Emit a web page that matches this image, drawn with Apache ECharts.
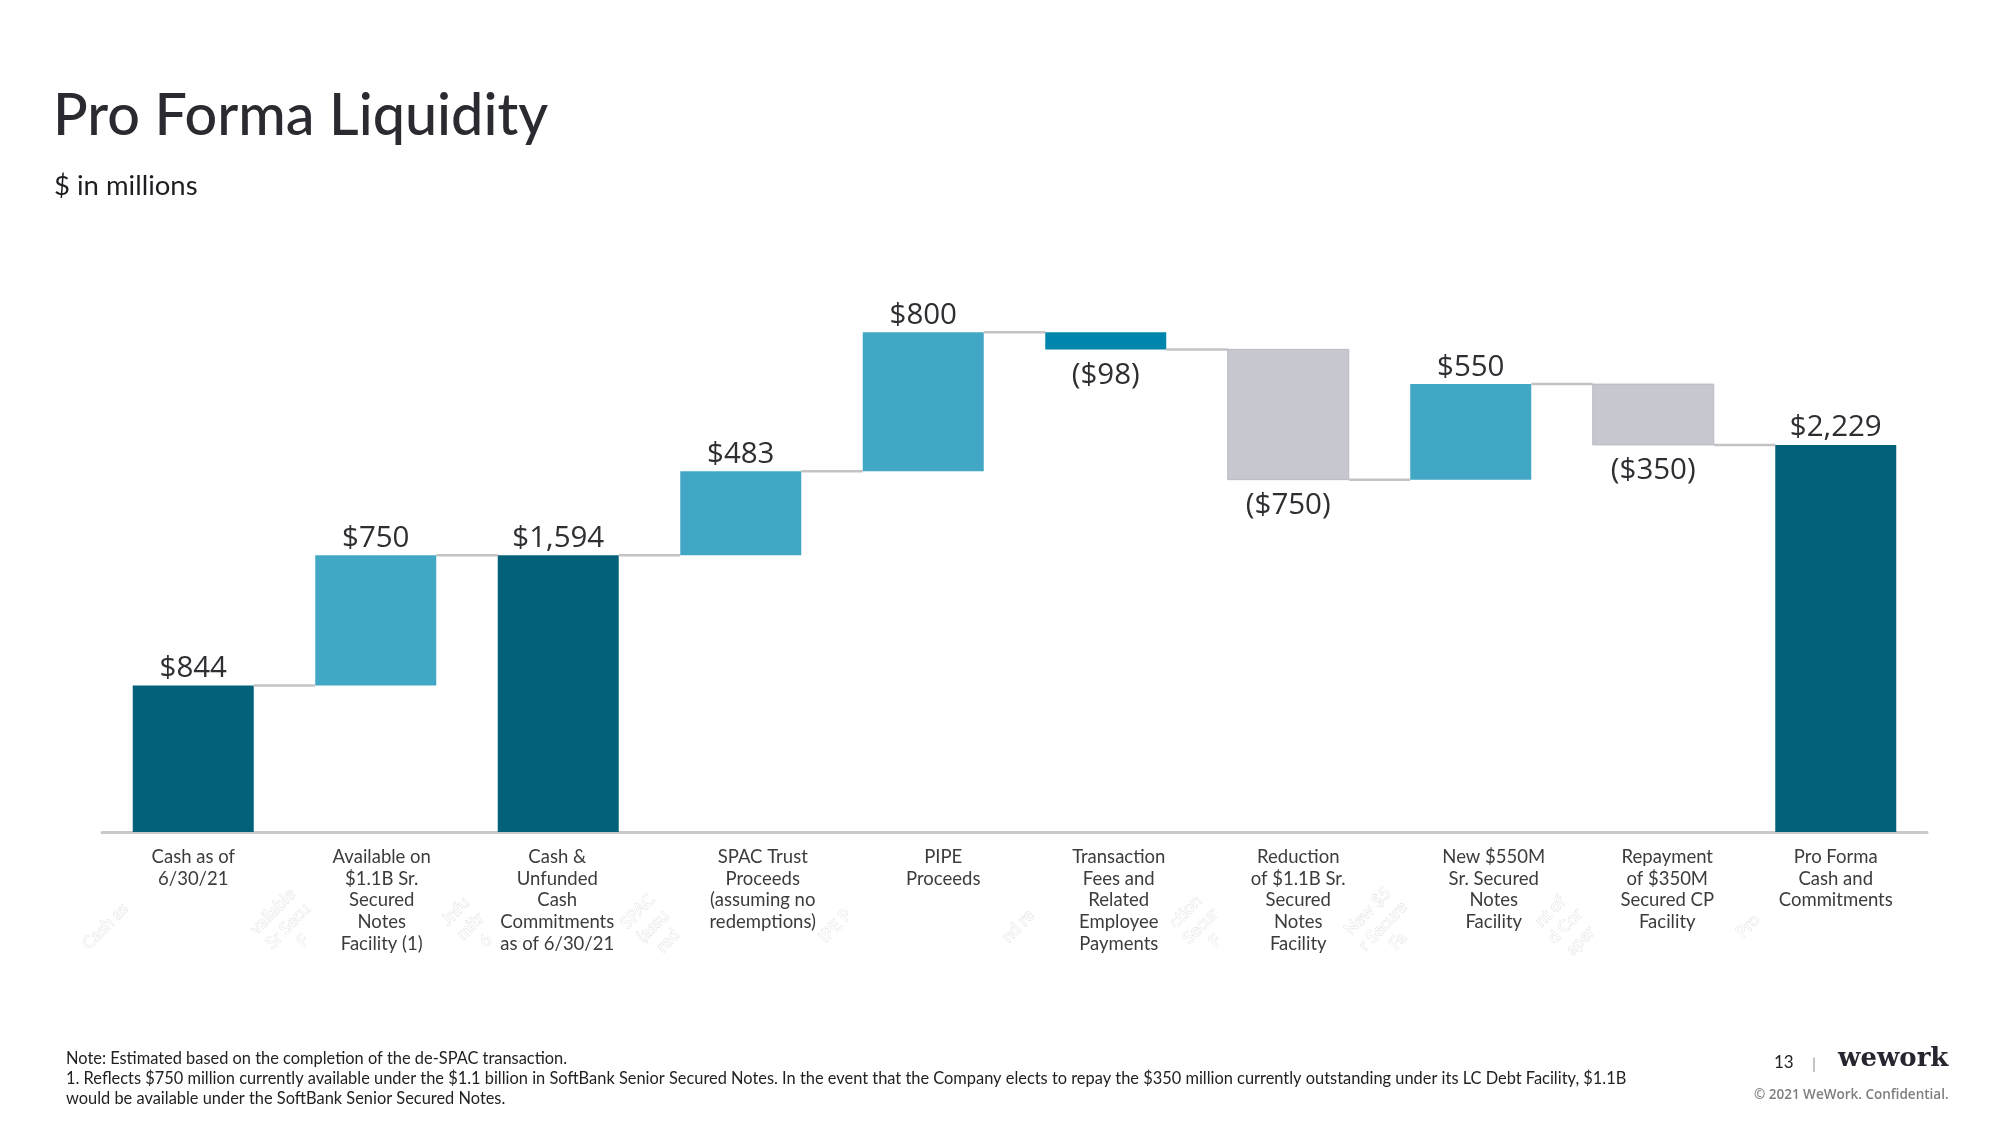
<!DOCTYPE html>
<html>
<head>
<meta charset="utf-8">
<script src="https://cdn.jsdelivr.net/npm/echarts@6/dist/echarts.min.js"></script>
<style>
html,body{margin:0;padding:0;background:#fff;}
#c{width:2000px;height:1125px;}
</style>
</head>
<body>
<div id="c"></div>
<script>
// ---------- data ----------
const categories = [
  'Cash as of\n6/30/21',
  'Available on\n$1.1B Sr.\nSecured\nNotes\nFacility (1)',
  'Cash &\nUnfunded\nCash\nCommitments\nas of 6/30/21',
  'SPAC Trust\nProceeds\n(assuming no\nredemptions)',
  'PIPE\nProceeds',
  'Transaction\nFees and\nRelated\nEmployee\nPayments',
  'Reduction\nof $1.1B Sr.\nSecured\nNotes\nFacility',
  'New $550M\nSr. Secured\nNotes\nFacility',
  'Repayment\nof $350M\nSecured CP\nFacility',
  'Pro Forma\nCash and\nCommitments'
];
const values = [844, 750, 1594, 483, 800, -98, -750, 550, -350, 2229];
const kinds  = ['total', 'inc', 'total', 'inc', 'inc', 'fee', 'dec', 'inc', 'dec', 'total'];
const ghostLabels = [
  'Cash as', 'vailable\nSr Secu\nF', 'Jnfu\nmitr\n6', 'SPAC\n(assu\nred', 'IPE P',
  'nd re', 'ction\nSecur\nF', 'New $5\nr Secure\nFa', 'nt of\nd Cor\naper', 'Pro'
];
const titleText = 'Pro Forma Liquidity';
const subtitleText = '$ in millions';
const notes = [
  'Note: Estimated based on the completion of the de-SPAC transaction.',
  '1. Reflects $750 million currently available under the $1.1 billion in SoftBank Senior Secured Notes. In the event that the Company elects to repay the $350 million currently outstanding under its LC Debt Facility, $1.1B',
  'would be available under the SoftBank Senior Secured Notes.'
];

// ---------- layout (not data) ----------
const labelShift = [0, 6, -1, 22, 20, 13, 10, 23, 14, 0]; // horizontal nudge of category text blocks (px)

// ---------- build waterfall rows ----------
const rows = [];
let running = 0;
values.forEach((v, i) => {
  let low, high, end;
  if (kinds[i] === 'total') { low = 0; high = v; end = v; }
  else if (v >= 0) { low = running; high = running + v; end = high; }
  else { low = running + v; high = running; end = low; }
  running = end;
  rows.push([i, low, high, end, v, i < values.length - 1 ? 1 : 0]);
});

const colorMap = { total: '#04617A', inc: '#41A7C4', fee: '#0085AD', dec: '#C6C7CF' };
function fmt(v) {
  const s = '$' + Math.abs(v).toLocaleString('en-US');
  return v < 0 ? '(' + s + ')' : s;
}

const chart = echarts.init(document.getElementById('c'), null, { renderer: 'canvas' });
const FONT = '"Open Sans", sans-serif';
const CATFONT = 'Lato, "Open Sans", sans-serif';

const option = {
  animation: false,
  backgroundColor: '#ffffff',
  grid: { left: 102, right: 73, top: 311, bottom: 293, containLabel: false },
  xAxis: {
    type: 'category',
    data: categories,
    axisTick: { show: false },
    axisLine: { lineStyle: { color: '#C9C9C9', width: 3 } },
    axisLabel: { show: false }
  },
  yAxis: { type: 'value', min: 0, max: 3000, show: false, splitLine: { show: false } },
  series: [{
    type: 'custom',
    data: rows,
    encode: { x: 0, y: [1, 2] },
    z: 3,
    renderItem: function (params, api) {
      const idx = api.value(0);
      const low = api.value(1), high = api.value(2), end = api.value(3), v = api.value(4);
      const band = api.size([1, 0])[0];
      const bw = band * 0.663;
      const pLow = api.coord([idx, low]);
      const pHigh = api.coord([idx, high]);
      const x0 = pLow[0] - bw / 2;
      const kind = kinds[idx];
      const children = [{
        type: 'rect',
        shape: { x: x0, y: pHigh[1], width: bw, height: pLow[1] - pHigh[1] },
        style: { fill: colorMap[kind], stroke: kind === 'dec' ? '#B9BAC2' : null, lineWidth: 1 }
      }];
      if (api.value(5)) {
        const pEnd = api.coord([idx, end]);
        const pNext = api.coord([idx + 1, end]);
        children.push({
          type: 'line',
          shape: { x1: x0 + bw, y1: pEnd[1], x2: pNext[0] - bw / 2, y2: pEnd[1] },
          style: { stroke: '#C3C3C3', lineWidth: 2.5 }
        });
      }
      const neg = v < 0;
      children.push({
        type: 'text',
        x: pLow[0],
        y: neg ? pLow[1] + 11 : pHigh[1] - 2,
        style: {
          text: fmt(v), fill: '#2e2e33', font: '29.5px ' + FONT,
          align: 'center', verticalAlign: neg ? 'top' : 'bottom'
        }
      });
      return { type: 'group', children: children };
    }
  }]
};
chart.setOption(option);

const staticGraphics = [
  { type: 'text', left: 53, top: 87, style: { text: titleText, fill: '#2a2a30', font: '500 57.5px Lato, sans-serif' } },
  { type: 'text', left: 54, top: 172, style: { text: subtitleText, fill: '#1e1e22', font: '27.5px Lato, sans-serif' } },
  { type: 'text', left: 66, top: 1051, style: { text: notes[0], fill: '#222', font: '16.4px Lato, sans-serif' } },
  { type: 'text', left: 66, top: 1071, style: { text: notes[1], fill: '#222', font: '16.4px Lato, sans-serif' } },
  { type: 'text', left: 66, top: 1091, style: { text: notes[2], fill: '#222', font: '16.4px Lato, sans-serif' } },
  { type: 'text', left: 1774, top: 1054, style: { text: '13', fill: '#222', font: '17px Lato, sans-serif' } },
  { type: 'text', left: 1812, top: 1056, style: { text: '|', fill: '#999', font: '16px Lato, sans-serif' } },
  { type: 'text', left: 1838, top: 1046, style: { text: 'wework', fill: '#262630', font: 'bold 26px "DejaVu Serif", serif' } },
  { type: 'text', left: 1754, top: 1088, style: { text: '\u00A9 2021 WeWork. Confidential.', fill: '#7e7e7e', font: '600 13.5px "Open Sans", sans-serif' } }
];

// category labels, placed from the category axis
const catEls = categories.map((t, i) => {
  const p = chart.convertToPixel({ xAxisIndex: 0 }, i);
  return {
    type: 'text', x: p + labelShift[i], y: 846,
    style: { text: t, fill: '#3c3c3c', font: '18.5px ' + CATFONT, align: 'center', verticalAlign: 'top', lineHeight: 21.7 }
  };
});

// faint rotated ghost labels, placed relative to category axis positions
const ghostEls = ghostLabels.map((t, i) => {
  const p = chart.convertToPixel({ xAxisIndex: 0 }, i);
  return {
    type: 'text',
    x: p - 88, y: 926,
    rotation: 0.8,
    style: {
      text: t, fill: '#ffffff', stroke: '#d4d4d4', lineWidth: 0.7,
      font: '17px Lato, sans-serif', align: 'center', verticalAlign: 'middle', lineHeight: 21
    },
    z: 1
  };
});
chart.setOption({ graphic: staticGraphics.concat(catEls, ghostEls) });
</script>
</body>
</html>
